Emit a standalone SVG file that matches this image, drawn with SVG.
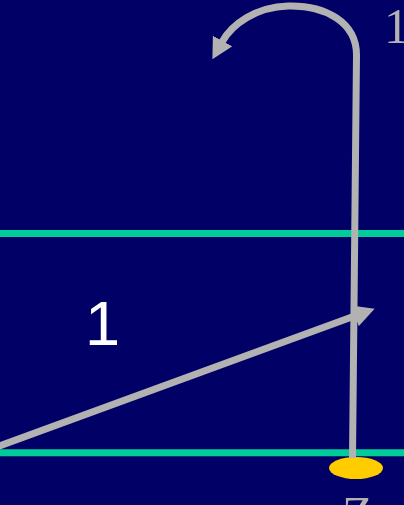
<svg xmlns="http://www.w3.org/2000/svg" width="404" height="505" viewBox="0 0 404 505">
<style>
.band{stroke:#00CC99;stroke-width:7;fill:none}
.arrow{stroke:#B2B2B2;stroke-width:7;fill:none}
.serif{font-family:"Liberation Serif",serif;fill:#B2B2B2}
</style>
<defs>
<marker id="ah" markerUnits="userSpaceOnUse" markerWidth="22" markerHeight="22" viewBox="0 -10 20 20" refX="1" refY="0" orient="auto">
<path d="M0,-10 L19,0 L0,10 Z" fill="#B2B2B2"/>
</marker>
</defs>
<rect width="404" height="505" fill="#000066"/>
<g id="bands">
<line class="band" x1="0" y1="233.5" x2="404" y2="233.5"/>
<line class="band" x1="0" y1="452.8" x2="404" y2="452.8"/>
</g>
<g id="node-dot">
<ellipse cx="356" cy="468" rx="27" ry="11" fill="#FFCC00"/>
</g>
<g id="connectors">
<path class="arrow" d="M352.5,458 L356.5,55 C356.5,22 325,5 288,6 C256,7 232,24 222,42" marker-end="url(#ah)"/>
<line class="arrow" x1="-2" y1="446.5" x2="356" y2="315.5" marker-end="url(#ah)"/>
</g>
<g id="label-1">
<text x="85" y="345" font-family="Liberation Sans, Arial, sans-serif" font-size="63" fill="#FFFFFF">1</text>
</g>
<g id="label-top">
<text class="serif" x="384" y="43" font-size="50">1</text>
</g>
<g id="label-bottom">
<text class="serif" x="342" y="531" font-size="50">Z</text>
</g>
</svg>
